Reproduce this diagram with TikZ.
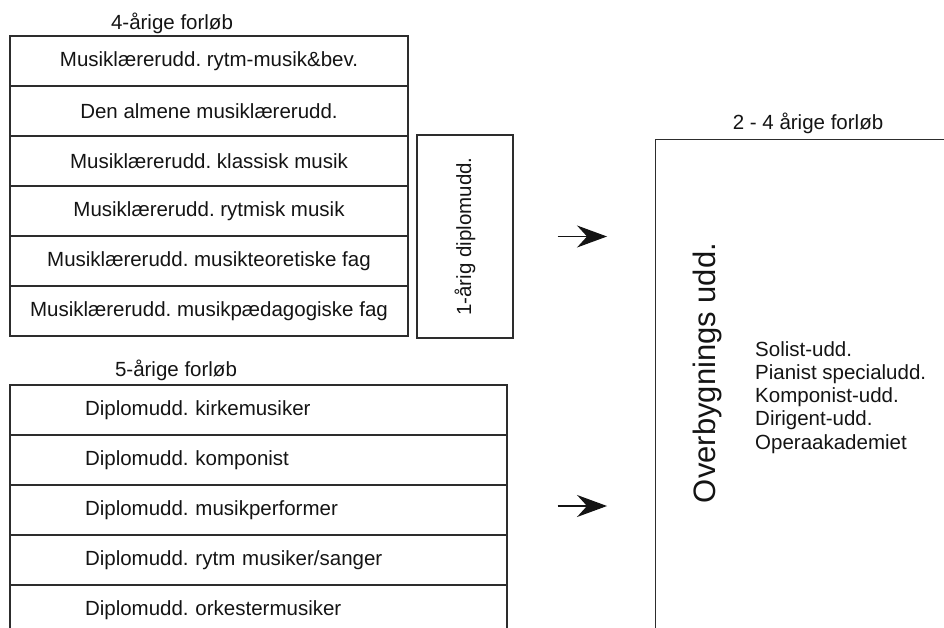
\documentclass[tikz,border=0pt]{standalone}
\usepackage{fontspec}
\setmainfont{Liberation Sans}
\frenchspacing
\usetikzlibrary{arrows.meta}
\definecolor{frame}{RGB}{45,45,45}
\definecolor{ink}{RGB}{20,20,20}

\tikzset{
  rowbox/.style={draw=frame, line width=1.3pt, minimum width=398pt, minimum height=50pt,
                 inner sep=0pt, text=ink, font=\fontsize{20.5}{23.25}\selectfont},
  diplrow/.style={draw=frame, line width=1.3pt, text width=497pt, minimum height=50pt,
                  inner sep=0pt, align=left, text=ink, font=\fontsize{20.5}{23.25}\selectfont},
  heading/.style={anchor=base, inner sep=0pt, text=ink, font=\fontsize{20.5}{23.25}\selectfont},
  flowarrow/.style={draw=ink, line width=1.2pt, -{Stealth[length=30pt, width=22pt, inset=10pt]}}
}

\begin{document}
\begin{tikzpicture}[x=1pt, y=-1pt]
            \useasboundingbox (0,0) rectangle (944,628);
            \clip (0,0) rectangle (944,628);

            % 4-aarige forloeb
            \node[heading] (head4) at (172,30) {4-årige forløb};
            \node[rowbox] (mus1) at (209, 61) {Musiklærerudd. rytm-musik\&bev.};
            \node[rowbox] (mus2) at (209,111) {Den almene musiklærerudd.};
            \node[rowbox] (mus3) at (209,161) {Musiklærerudd. klassisk musik};
            \node[rowbox] (mus4) at (209,211) {Musiklærerudd. rytmisk musik};
            \node[rowbox] (mus5) at (209,261) {Musiklærerudd. musikteoretiske fag};
            \node[rowbox] (mus6) at (209,311) {Musiklærerudd. musikpædagogiske fag};

            \node[draw=frame, line width=1.3pt, minimum width=96pt, minimum height=203pt] (diplom) at (465,236.5) {};
            \node[rotate=90, inner sep=0pt, text=ink, font=\fontsize{20.5}{23.25}\selectfont] (diplomtxt) at (diplom.center) {1-årig diplomudd.};

            % 5-aarige forloeb
            \node[heading] (head5) at (176,376) {5-årige forløb};
            \node[diplrow] (dip1) at (258.5,410) {\hspace*{75pt}Diplomudd. kirkemusiker};
            \node[diplrow] (dip2) at (258.5,460) {\hspace*{75pt}Diplomudd. komponist};
            \node[diplrow] (dip3) at (258.5,510) {\hspace*{75pt}Diplomudd. musikperformer};
            \node[diplrow] (dip4) at (258.5,560) {\hspace*{75pt}Diplomudd. rytm musiker/sanger};
            \node[diplrow] (dip5) at (258.5,610) {\hspace*{75pt}Diplomudd. orkestermusiker};

            % overbygning
            \node[heading] (head24) at (808,130) {2 - 4 årige forløb};
            \node[draw=frame, line width=1.3pt, minimum width=360pt, minimum height=560pt, anchor=north west] (over) at (655,139) {};
            \node[rotate=90, anchor=base, inner sep=0pt, text=ink, font=\fontsize{31}{36}\selectfont] (overtxt) at (715,373) {Overbygnings udd.};
            \node[anchor=north west, align=left, inner sep=0pt, text=ink, font=\fontsize{20.5}{23.25}\selectfont] (tracks) at (755,341)
                 {Solist-udd.\\Pianist specialudd.\\Komponist-udd.\\Dirigent-udd.\\Operaakademiet};

            \draw[flowarrow] ([xshift=44pt]diplom.east) -- ([xshift=-48pt]diplom.east -| over.west);
            \draw[flowarrow] ([xshift=50pt, yshift=4pt]dip3.east) -- ([xshift=-48pt, yshift=4pt]dip3.east -| over.west);
        \end{tikzpicture}
\end{document}
